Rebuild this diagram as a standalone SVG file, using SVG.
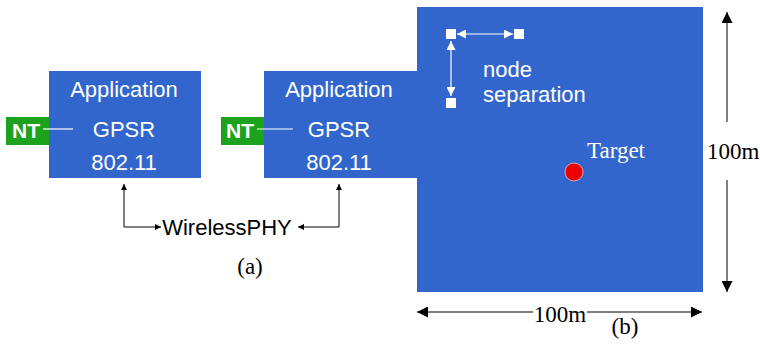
<svg xmlns="http://www.w3.org/2000/svg" width="760" height="348" viewBox="0 0 760 348">
<defs>
<style>
.blue{fill:#3366cc}
.green{fill:#1ca21c}
.ws{font-family:"Liberation Sans",Arial,sans-serif;font-size:22px;fill:#fff;text-anchor:middle}
.nt{font-family:"Liberation Sans",Arial,sans-serif;font-size:21px;fill:#fff;font-weight:bold;text-anchor:middle}
.serif{font-family:"Liberation Serif","Times New Roman",serif;font-size:23px;fill:#000}
.wl{stroke:#fff;stroke-width:1.2;fill:none}
.bl{stroke:#000;stroke-width:1;fill:none}
</style>
<marker id="ab" viewBox="0 0 10 10" refX="10" refY="5" markerWidth="6" markerHeight="6" orient="auto-start-reverse" markerUnits="userSpaceOnUse"><path d="M0,0 L10,5 L0,10 Z" fill="#000"/></marker>
<marker id="abig" viewBox="0 0 10 10" refX="10" refY="5" markerWidth="12" markerHeight="11" orient="auto-start-reverse" markerUnits="userSpaceOnUse"><path d="M0,0 L10,5 L0,10 Z" fill="#000"/></marker>
<marker id="aw" viewBox="0 0 10 10" refX="10" refY="5" markerWidth="9" markerHeight="9" orient="auto-start-reverse" markerUnits="userSpaceOnUse"><path d="M0,0 L10,5 L0,10 Z" fill="#fff"/></marker>
</defs>
<g id="field">
<rect class="blue" x="417" y="7" width="286" height="285"/>
<rect x="446" y="29" width="10" height="10" fill="#fff"/>
<rect x="514" y="29" width="10" height="10" fill="#fff"/>
<rect x="446" y="98" width="10" height="10" fill="#fff"/>
<line class="wl" x1="457" y1="34" x2="513" y2="34" marker-start="url(#aw)" marker-end="url(#aw)"/>
<line class="wl" x1="451" y1="41" x2="451" y2="96" marker-start="url(#aw)" marker-end="url(#aw)"/>
<text class="ws" x="483" y="77" style="text-anchor:start">node</text>
<text class="ws" x="483" y="102" style="text-anchor:start">separation</text>
<circle cx="574" cy="172" r="9" fill="#ee0000" stroke="#f0c0c0" stroke-width="0.8"/>
<text class="serif" x="587" y="158" style="fill:#fff">Target</text>
</g>
<g id="node1">
<rect class="blue" x="49" y="71" width="152" height="107"/>
<text class="ws" x="124" y="97">Application</text>
<text class="ws" x="124" y="137">GPSR</text>
<text class="ws" x="124" y="170">802.11</text>
</g>
<g id="nt1">
<rect class="green" x="6" y="117" width="43" height="28"/>
<text class="nt" x="26" y="138">NT</text>
</g>
<g id="node2">
<rect class="blue" x="264" y="71" width="153" height="107"/>
<text class="ws" x="339" y="97">Application</text>
<text class="ws" x="339" y="137">GPSR</text>
<text class="ws" x="339" y="170">802.11</text>
</g>
<g id="nt2">
<rect class="green" x="221" y="117" width="43" height="28"/>
<text class="nt" x="240" y="138">NT</text>
</g>
<g id="wireless">
<text x="227" y="235" style="font-family:'Liberation Sans',Arial,sans-serif;font-size:22px;fill:#000;text-anchor:middle">WirelessPHY</text>
</g>
<g id="connectors">
<line class="wl" x1="43" y1="129" x2="73" y2="129"/>
<line class="wl" x1="257" y1="129" x2="293" y2="129"/>
<polyline class="bl" points="124,184 124,227 161,227" marker-start="url(#ab)" marker-end="url(#ab)"/>
<polyline class="bl" points="339,184 339,227 298,227" marker-start="url(#ab)" marker-end="url(#ab)"/>
<line class="bl" x1="727" y1="122" x2="727" y2="12" marker-end="url(#abig)"/>
<line class="bl" x1="727" y1="180" x2="727" y2="292" marker-end="url(#abig)"/>
<line class="bl" x1="533" y1="312" x2="417" y2="312" marker-end="url(#abig)"/>
<line class="bl" x1="587" y1="312" x2="702" y2="312" marker-end="url(#abig)"/>
</g>
<g id="labels">
<text class="serif" x="707" y="159">100m</text>
<text class="serif" x="560" y="322" style="text-anchor:middle">100m</text>
<text class="serif" x="250" y="274" style="text-anchor:middle">(a)</text>
<text class="serif" x="625" y="334" style="text-anchor:middle">(b)</text>
</g>
</svg>
